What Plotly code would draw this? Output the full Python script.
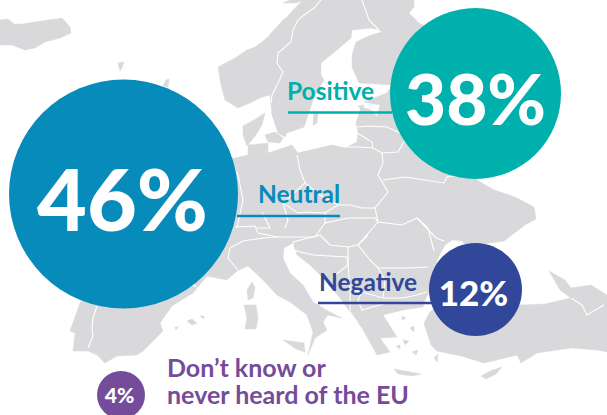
import plotly.graph_objects as go

# ---- chart data ----
categories = ["Neutral", "Positive", "Negative", "Don\u2019t know or", "never heard of the EU"]
values = [46, 38, 12, 4]
value_labels = ["46%", "38%", "12%", "4%"]

# ---- layout of the marks (pixel space of the picture) ----
bubble_x = [123.5, 475.5, 475.5, 121]
bubble_y = [194, 93.5, 289.5, 395]
bubble_d = [229, 171, 93, 48]
value_x = [122.5, 475.5, 473.5, 119.5]
value_y = [209.5, 107, 297, 398]
value_font = [86, 71, 35, 21]
colors = ["#078bbb", "#00b0ac", "#30479a", "#744c9a"]
label_x = [258, 287, 319, 167, 167]
label_y = [194, 91, 282, 368, 395]
label_font = [24.5, 24.5, 24.5, 25, 25]
label_colors = ["#078bbb", "#00b0ac", "#30479a", "#744c9a", "#744c9a"]
leader_x = [(237, 340), (288, 392), (318, 432)]
leader_y = [216, 112.5, 303]

LAND = "#d9d9db"
land = [
    # Iceland
    [(0,20),(8,19),(14,24),(22,24),(35,22),(50,20),(62,18),(70,27),(71,33),(60,38),(45,42),(35,48),(25,50),(12,45),(0,45)],
    # Faroe, Shetland
    [(118,63),(124,62),(122,68),(120,71)],
    [(163,86),(166,80),(169,79),(168,87)],
    # Svalbard corner
    [(283,3),(290,0),(304,0),(296,3)],
    # Norway + Sweden
    [(218,67),(227,62),(235,58),(247,50),(255,47),(267,38),(272,32),(283,20),(287,17),(293,10),(303,0),(362,0),(369,20),(379,30),(371,28),(352,30),
     (351,38),(337,50),(321,63),(321,75),(324,80),(314,97),(304,127),(287,133),(285,137),(278,133),(272,115),(270,95),
     (262,97),(250,103),(238,108),(225,100),(221,85)],
    # Finland + Russia + central Europe + Balkans + Italy
    [(362,0),(414,0),(414,7),(409,13),(419,23),(450,40),(470,120),(477,180),(494,190),(515,197),(534,207),(536,219),
     (525,225),(504,241),(490,243),(478,245),(470,250),(462,241),(452,240),(445,245),(438,258),(432,275),(430,290),
     (425,300),(423,307),(403,310),(383,315),(397,337),(380,338),(390,352),(377,355),(370,342),(362,328),(350,312),
     (340,298),(323,278),(310,265),(297,255),(293,243),(284,248),(283,258),(290,273),(303,285),(313,302),(330,312),
     (342,318),(328,315),(323,322),(327,330),(315,338),(308,355),(313,332),(307,315),(290,302),(277,295),(263,280),
     (248,266),(237,271),(227,280),(207,276),(197,288),(150,200),(160,160),(235,158),(248,155),(248,145),(268,143),
     (268,153),(292,145),(298,153),(332,145),(345,148),(357,142),(358,132),(356,123),(361,107),(371,110),(377,117),
     (380,105),(364,102),(387,93),(392,85),(359,83),(352,67),(352,55),(356,42),(371,35),(382,32),(379,30),(369,20)],
    # Iberia
    [(120,250),(197,288),(193,293),(172,306),(160,323),(163,331),(143,351),(137,355),(117,356),(105,363),(97,355),
     (88,351),(73,351),(75,333),(70,331),(80,303)],
    # Jutland + Danish islands
    [(243,126),(254,120),(265,113),(262,125),(256,135),(250,143),(247,146),(243,135)],
    [(265,135),(275,132),(283,138),(280,143),(268,142)],
    # Gotland, Saaremaa
    [(314,113),(318,111),(317,123),(313,125)],
    [(358,106),(364,105),(362,111)],
    # Corsica, Sardinia, Sicily, Balearics
    [(252,282),(255,287),(253,298),(248,300),(247,290)],
    [(244,305),(256,305),(258,318),(256,329),(245,329),(247,318)],
    [(283,340),(304,343),(305,352),(296,349)],
    [(187,321),(192,319),(197,323),(192,325)],
    [(200,316),(204,316),(204,319)],
    [(175,327),(178,327),(176,330)],
    # Crete, Cyprus, Rhodes
    [(394,369),(410,372),(421,374),(412,376),(398,374)],
    [(481,376),(490,371),(502,367),(496,374),(486,379)],
    [(434,358),(438,354),(437,362)],
    # Aegean islands
    [(403,340),(409,341),(405,345)], [(412,352),(418,350),(416,355)], [(402,316),(406,318),(402,320)],
    [(410,328),(414,326),(414,332)], [(396,346),(400,345),(400,349)],
    # Turkey
    [(424,323),(430,312),(445,300),(465,296),(490,300),(521,305),(545,304),(571,298),(582,305),(604,305),(607,300),
     (607,352),(597,350),(571,348),(537,353),(521,363),(517,355),(484,363),(461,356),(437,351),(431,345)],
    # Caucasus
    [(549,271),(565,280),(571,288),(591,285),(607,295),(607,305),(587,310),(571,298),(560,290)],
]
borders = [
    [(271,103),(272,95),(278,83),(283,72),(277,63),(278,53),(291,42),(293,30),(298,20),(304,15),(314,8),(321,0)],
    [(362,0),(369,20),(379,30)],
    [(356,127),(370,126),(387,127),(400,133)],
    [(357,133),(372,142),(373,148),(382,153),(398,152),(405,140)],
    [(347,147),(360,147),(373,148)],
    [(297,155),(300,170),(305,183),(320,195),(338,205),(350,205),(362,208),(375,208)],
    [(382,153),(383,163),(378,175),(388,192),(375,208),(378,222)],
    [(383,180),(405,177),(444,183),(447,177),(461,175)],
    [(305,183),(283,203),(298,213),(305,212),(325,213),(338,205)],
    [(325,213),(325,223),(348,218),(375,218),(378,222),(402,225),(417,218),(436,238),(444,241)],
    [(235,227),(255,226),(258,233),(278,237),(315,237),(325,223)],
    [(285,228),(288,220),(283,203)],
    [(230,248),(243,241),(263,238),(278,237)],
    [(230,248),(228,258),(238,270)],
    [(97,306),(93,318),(92,328),(93,336),(88,348)],
    [(378,222),(362,240),(358,245),(348,247),(330,245),(320,235)],
    [(358,245),(370,260),(378,268),(407,268),(428,267)],
    [(378,268),(385,280),(383,298)],
    [(293,242),(293,250),(313,255),(347,257),(348,265),(333,277)],
    [(348,247),(348,255),(348,265),(350,290),(350,312),(358,323)],
    [(350,290),(362,292),(383,298),(403,298),(417,295),(427,292)],
    [(362,292),(358,300),(362,310),(387,303)],
    [(368,235),(358,245)],
    [(417,218),(428,228),(434,251)],
    [(571,298),(582,305),(587,315),(604,305)],
    [(230,160),(238,175),(243,200),(237,228)],
    [(262,212),(270,228),(257,228)],
    [(320,235),(293,242)],
]

fig = go.Figure()
for poly in land:
    xs, ys = zip(*(poly + poly[:1]))
    fig.add_trace(go.Scatter(x=xs, y=ys, mode="lines", fill="toself", fillcolor=LAND,
                             line=dict(color=LAND, width=0.5), hoverinfo="skip", showlegend=False))
for line in borders:
    xs, ys = zip(*line)
    fig.add_trace(go.Scatter(x=xs, y=ys, mode="lines", line=dict(color="#ffffff", width=1.1),
                             hoverinfo="skip", showlegend=False))
for (x0, x1), y, c in zip(leader_x, leader_y, colors):
    fig.add_trace(go.Scatter(x=[x0, x1], y=[y, y], mode="lines", line=dict(color=c, width=2.6),
                             hoverinfo="skip", showlegend=False))
fig.add_trace(go.Scatter(
    x=bubble_x, y=bubble_y, mode="markers",
    marker=dict(size=bubble_d, color=colors, line=dict(width=0), opacity=1),
    customdata=values, cliponaxis=False, showlegend=False, hoverinfo="skip"))
fig.add_trace(go.Scatter(
    x=value_x, y=value_y, mode="text", text=value_labels, textposition="middle center",
    textfont=dict(family="Lato", size=value_font, color="#ffffff", weight=900),
    cliponaxis=False, showlegend=False, hoverinfo="skip"))
fig.add_trace(go.Scatter(
    x=label_x, y=[y + 3 for y in label_y], mode="text", text=categories, textposition="middle right",
    textfont=dict(family="Lato", size=label_font, color=label_colors, weight=700),
    cliponaxis=False, showlegend=False, hoverinfo="skip"))

fig.update_layout(
    width=607, height=415, margin=dict(l=0, r=0, t=0, b=0),
    paper_bgcolor="#ffffff", plot_bgcolor="#ffffff", showlegend=False,
    xaxis=dict(range=[0, 607], visible=False, fixedrange=True),
    yaxis=dict(range=[415, 0], visible=False, fixedrange=True),
)
fig.write_html("out.html", config=dict(displayModeBar=False),
               post_script="document.body.style.margin='0';document.documentElement.style.overflow='hidden';")
